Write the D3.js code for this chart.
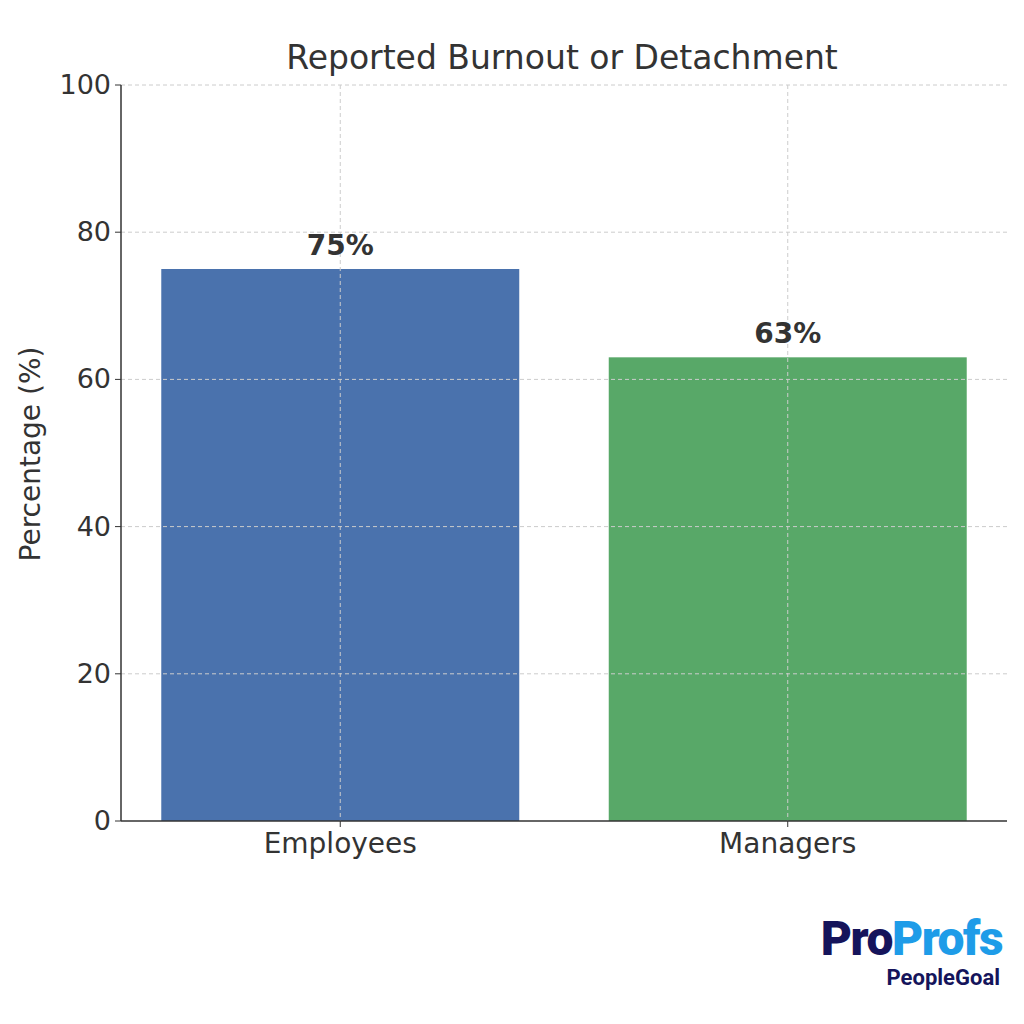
<!DOCTYPE html><html><head><meta charset="utf-8">
<script src="https://cdn.jsdelivr.net/npm/d3@7"></script>
<style>body{margin:0;background:#fff}</style></head><body><svg width="1024" height="1024"></svg>
<script>
const categories=["Employees","Managers"];
const values=[75,63];
const colors=["#4a72ad","#58a868"];
const yTicks=[0,20,40,60,80,100];
const svg=d3.select("svg");
const L=121,R=1007,T=85,B=821;
const x=d3.scaleLinear().domain([-0.49,1.49]).range([L,R]);
const y=d3.scaleLinear().domain([0,100]).range([B,T]);
const bw=x(0.4)-x(-0.4);
const g=svg.append("g").attr("font-family","DejaVu Sans").attr("fill","#333");
g.selectAll("rect").data(values).enter().append("rect")
 .attr("x",(d,i)=>x(i)-bw/2).attr("width",bw).attr("y",d=>y(d)).attr("height",d=>B-y(d)).attr("fill",(d,i)=>colors[i]);
const grid=g.append("g").attr("stroke","#ccc").attr("stroke-dasharray","4,3");
yTicks.slice(1).forEach(t=>grid.append("line").attr("x1",L).attr("x2",R).attr("y1",y(t)).attr("y2",y(t)));
categories.forEach((c,i)=>grid.append("line").attr("x1",x(i)).attr("x2",x(i)).attr("y1",T).attr("y2",B));
g.append("line").attr("x1",L).attr("x2",L).attr("y1",T).attr("y2",B).attr("stroke","#333").attr("stroke-width",1.5);
g.append("line").attr("x1",L).attr("x2",R).attr("y1",B).attr("y2",B).attr("stroke","#333").attr("stroke-width",1.5);
yTicks.forEach(t=>{g.append("line").attr("x1",L-6).attr("x2",L).attr("y1",y(t)).attr("y2",y(t)).attr("stroke","#333");
 g.append("text").attr("x",L-10).attr("y",y(t)+9).attr("text-anchor","end").attr("font-size",27).text(t);});
categories.forEach((c,i)=>{g.append("line").attr("x1",x(i)).attr("x2",x(i)).attr("y1",B).attr("y2",B+6).attr("stroke","#333");
 g.append("text").attr("x",x(i)).attr("y",B+32).attr("text-anchor","middle").attr("font-size",28).text(c);});
values.forEach((v,i)=>g.append("text").attr("x",x(i)).attr("y",y(v)-14).attr("text-anchor","middle").attr("font-size",28).attr("font-weight","bold").text(v+"%"));
g.append("text").attr("x",562).attr("y",69).attr("text-anchor","middle").attr("font-size",33).text("Reported Burnout or Detachment");
g.append("text").attr("transform","translate(40,454) rotate(-90)").attr("text-anchor","middle").attr("font-size",28).text("Percentage (%)");
const lg=svg.append("g").attr("font-family","Roboto").attr("font-weight","900");
const t1=lg.append("text").attr("x",1002).attr("y",955).attr("text-anchor","end").attr("font-size",48).attr("letter-spacing",-1.5);
t1.append("tspan").attr("fill","#15145b").text("Pro");
t1.append("tspan").attr("fill","#1e9ce8").text("Profs");
lg.append("text").attr("x",1000).attr("y",985).attr("text-anchor","end").attr("font-size",22).attr("font-weight","bold").attr("fill","#15145b").text("PeopleGoal");
</script></body></html>
